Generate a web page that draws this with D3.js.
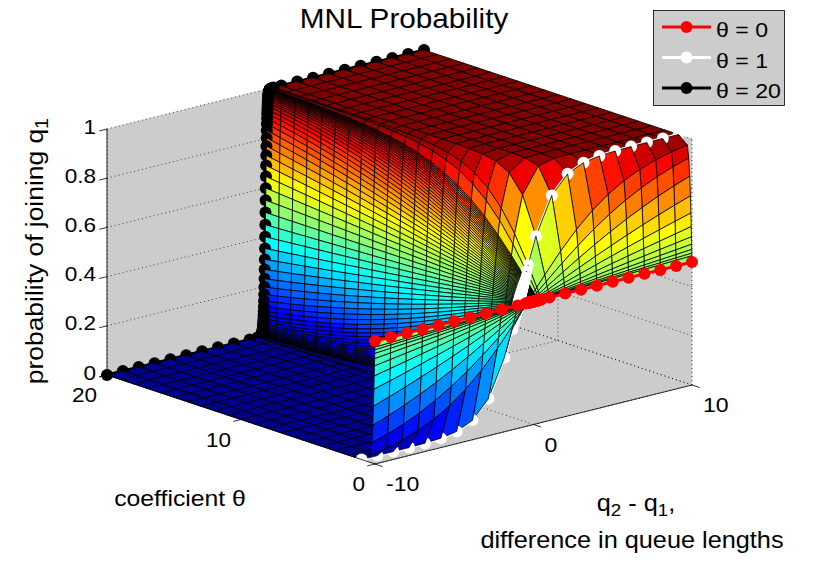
<!DOCTYPE html>
<html><head><meta charset="utf-8">
<script src="https://cdn.jsdelivr.net/npm/d3@7"></script>
<style>
html,body{margin:0;padding:0;background:#fff;}
svg{display:block;font-family:"Liberation Sans",Arial,Helvetica,sans-serif;}
</style></head><body>
<svg id="chart" width="834" height="562"></svg>
<script>
// ---------------- data ----------------
const qDiffValues = [-10,-9,-8,-7,-6,-5,-4,-3,-2,-1,
 -0.5,-0.4,
 -0.3,-0.29,-0.28,-0.27,-0.26,-0.25,-0.24,-0.23,-0.22,-0.21,
 -0.2,-0.19,-0.18,-0.17,-0.16,-0.15,-0.14,-0.13,-0.12,-0.11,
 -0.1,-0.09,-0.08,-0.07,-0.06,-0.05,-0.04,-0.03,-0.02,-0.01,
 0,
 0.01,0.02,0.03,0.04,0.05,0.06,0.07,0.08,0.09,0.1,
 0.11,0.12,0.13,0.14,0.15,0.16,0.17,0.18,0.19,0.2,
 0.21,0.22,0.23,0.24,0.25,0.26,0.27,0.28,0.29,0.3,
 0.4,0.5,
 1,2,3,4,5,6,7,8,9,10];
const thetaValues = [0,0.01,0.0143,0.0203,0.0289,0.0412,0.0587,0.0836,0.119,0.17,0.242,0.345,
 1,2,3,4,5,6,7,8,9,10,11,12,13,14,15,16,17,18,19,20];
const zTicks = [0,0.2,0.4,0.6,0.8,1];
const zTickLabels = ["0","0.2","0.4","0.6","0.8","1"];
const qDiffTicks = [-10,0,10];
const qDiffTickLabels = ["-10","0","10"];
const thetaTicks = [0,10,20];
const thetaTickLabels = ["0","10","20"];
const seriesThetas = [0,1,20];
const seriesNames = ["\u03b8 = 0","\u03b8 = 1","\u03b8 = 20"];
const seriesColors = ["#ff0000","#ffffff","#000000"];

// MNL probability of joining q1
function mnl(theta, d){ return 1/(1+Math.exp(-theta*d)); }

// ---------------- projection ----------------
const uS = d3.scaleLinear().domain([-10,10]).range([0,1]);
const vS = d3.scaleLinear().domain([0,20]).range([0,1]);
const wS = d3.scaleLinear().domain([0,1]).range([0,1]);
const O=[375,464], U=[317,-79], V=[-268,-89], W=[0,-246];
function P(x,t,z){
  const u=uS(x), v=vS(t), w=wS(z);
  return [O[0]+U[0]*u+V[0]*v+W[0]*w, O[1]+U[1]*u+V[1]*v+W[1]*w];
}
function poly(pts){ return "M"+pts.map(p=>p[0].toFixed(2)+","+p[1].toFixed(2)).join("L")+"Z"; }
function seg(a,b){ return "M"+a[0].toFixed(2)+","+a[1].toFixed(2)+"L"+b[0].toFixed(2)+","+b[1].toFixed(2); }

// MATLAB jet(64)
function jetMap(m){
  const n=Math.ceil(m/4), u=[];
  for(let i=1;i<=n;i++) u.push(i/n);
  for(let i=1;i<n;i++) u.push(1);
  for(let i=n;i>=1;i--) u.push(i/n);
  const g0=Math.ceil(n/2)-(m%4===1?1:0);
  const map=Array.from({length:m},()=>[0,0,0]);
  for(let k=0;k<u.length;k++){
    const g=g0+k+1, r=g+n, b=g-n;
    if(g>=1&&g<=m) map[g-1][1]=u[k];
    if(r>=1&&r<=m) map[r-1][0]=u[k];
    if(b>=1&&b<=m) map[b-1][2]=u[k];
  }
  return map.map(c=>d3.rgb(Math.round(c[0]*255),Math.round(c[1]*255),Math.round(c[2]*255)).formatHex());
}
const JET=jetMap(64);
const cScale = d3.scaleQuantize().domain([0,1]).range(JET);

const svg=d3.select("#chart");
const SX=1.1;
function txt(g,str,x,y,size,anchor){
  const t=g.append("text").attr("transform",`translate(${x},${y}) scale(${SX},1)`)
    .attr("font-size",size).attr("text-anchor",anchor||"start").attr("fill","#000");
  if(str!==null) t.text(str);
  return t;
}

// ---------------- back planes ----------------
const gBack=svg.append("g");
const wallFill="#cccccc";
[[[-10,0,0],[10,0,0],[10,20,0],[-10,20,0]],
 [[-10,20,0],[10,20,0],[10,20,1],[-10,20,1]],
 [[10,0,0],[10,20,0],[10,20,1],[10,0,1]]].forEach(w=>{
  gBack.append("path").attr("d",poly(w.map(p=>P(...p)))).attr("fill",wallFill).attr("stroke",wallFill).attr("stroke-width",0.5);
});
const grid=[];
zTicks.forEach(z=>{ grid.push([P(-10,20,z),P(10,20,z)]); grid.push([P(10,0,z),P(10,20,z)]); });
qDiffTicks.forEach(x=>{ grid.push([P(x,20,0),P(x,20,1)]); grid.push([P(x,0,0),P(x,20,0)]); });
thetaTicks.forEach(t=>{ grid.push([P(10,t,0),P(10,t,1)]); grid.push([P(-10,t,0),P(10,t,0)]); });
grid.forEach(s=>gBack.append("path").attr("d",seg(s[0],s[1])).attr("stroke","#000").attr("stroke-width",0.7)
  .attr("stroke-dasharray","1,3").attr("fill","none"));

// ---------------- surface + series (painter order) ----------------
const nT=thetaValues.length, nX=qDiffValues.length;
const Z=thetaValues.map(t=>qDiffValues.map(d=>mnl(t,d)));
const items=[];
for(let i=0;i<nT-1;i++){
  for(let j=0;j<nX-1;j++){
    const pts=[P(qDiffValues[j],thetaValues[i],Z[i][j]),P(qDiffValues[j+1],thetaValues[i],Z[i][j+1]),
               P(qDiffValues[j+1],thetaValues[i+1],Z[i+1][j+1]),P(qDiffValues[j],thetaValues[i+1],Z[i+1][j])];
    items.push({type:"face",key:i+j,d:poly(pts),fill:cScale(Math.min(Z[i][j],0.999999))});
  }
}
seriesThetas.forEach((th,s)=>{
  if(s===0) return; // theta = 0 drawn on top
  const i=thetaValues.indexOf(th);
  for(let j=0;j<nX-1;j++){
    items.push({type:"seg",key:i+j-0.5,d:seg(P(qDiffValues[j],th,Z[i][j]),P(qDiffValues[j+1],th,Z[i][j+1])),color:seriesColors[s]});
  }
  for(let j=0;j<nX;j++){
    items.push({type:"mark",key:i+j-1.5-0.01,p:P(qDiffValues[j],th,Z[i][j]),color:seriesColors[s]});
  }
});
items.sort((a,b)=>b.key-a.key);
const gSurf=svg.append("g");
items.forEach(it=>{
  if(it.type==="face"){
    gSurf.append("path").attr("d",it.d).attr("fill",it.fill).attr("stroke","#000").attr("stroke-width",0.8).attr("stroke-linejoin","round");
  } else if(it.type==="seg"){
    gSurf.append("path").attr("d",it.d).attr("stroke",it.color).attr("stroke-width",3).attr("stroke-linecap","round").attr("fill","none");
  } else {
    gSurf.append("circle").attr("cx",it.p[0]).attr("cy",it.p[1]).attr("r",6).attr("fill",it.color);
  }
});
// theta = 0 series on top
(function(){
  const i=thetaValues.indexOf(seriesThetas[0]);
  const pts=qDiffValues.map((d,j)=>P(d,seriesThetas[0],Z[i][j]));
  const g=svg.append("g");
  g.append("path").attr("d",d3.line()(pts)).attr("stroke",seriesColors[0]).attr("stroke-width",3).attr("fill","none");
  pts.forEach(p=>g.append("circle").attr("cx",p[0]).attr("cy",p[1]).attr("r",6).attr("fill",seriesColors[0]));
})();

// ---------------- axes ----------------
const gAx=svg.append("g");
function line(a,b,w){ gAx.append("path").attr("d",seg(a,b)).attr("stroke","#000").attr("stroke-width",w||0.8).attr("fill","none"); }
line(P(-10,0,0),P(10,0,0));
line(P(-10,0,0),P(-10,20,0));
line(P(-10,20,0),P(-10,20,1));
const tl=8;
const dirV=[-V[0],-V[1]], nV=Math.hypot(...dirV);
const dirU=[-U[0],-U[1]], nU=Math.hypot(...dirU);
qDiffTicks.forEach((x,k)=>{
  const p=P(x,0,0);
  line(p,[p[0]+dirV[0]/nV*tl,p[1]+dirV[1]/nV*tl]);
  txt(gAx,qDiffTickLabels[k],p[0]+11,p[1]+27,21,"start");
});
thetaTicks.forEach((t,k)=>{
  const p=P(-10,t,0);
  line(p,[p[0]+dirU[0]/nU*tl,p[1]+dirU[1]/nU*tl]);
  txt(gAx,thetaTickLabels[k],p[0]-10,p[1]+27,20.5,"end");
});
zTicks.forEach((z,k)=>{
  const p=P(-10,20,z);
  line(p,[p[0]+dirU[0]/nU*tl,p[1]+dirU[1]/nU*tl]);
  txt(gAx,zTickLabels[k],p[0]-11,p[1]+4.5,20.5,"end");
});

// axis labels
const yl=gAx.append("text").attr("transform","translate(43,251) rotate(-90) scale(1.1,1)")
  .attr("font-size",24).attr("text-anchor","middle");
yl.append("tspan").text("probability of joining q");
yl.append("tspan").attr("font-size",18).attr("dy",5).text("1");

txt(gAx,"coefficient \u03b8",180,506,22.5,"middle");
const xl1=txt(gAx,null,636,511,23,"middle");
xl1.append("tspan").text("q");
xl1.append("tspan").attr("font-size",17).attr("dy",5).text("2");
xl1.append("tspan").attr("dy",-5).text(" - q");
xl1.append("tspan").attr("font-size",17).attr("dy",5).text("1");
xl1.append("tspan").attr("dy",-5).text(",");
txt(gAx,"difference in queue lengths",632,548,23,"middle");

// title
txt(gAx,"MNL Probability",404,28,27,"middle");

// ---------------- legend ----------------
const gL=svg.append("g");
gL.append("rect").attr("x",653.5).attr("y",10.5).attr("width",131).attr("height",95)
  .attr("fill","#cccccc").attr("stroke","#000").attr("stroke-width",0.8);
const rowY=[27,57.5,88];
seriesNames.forEach((nm,k)=>{
  const y=rowY[k];
  gL.append("path").attr("d",`M662,${y}L711,${y}`).attr("stroke",seriesColors[k]).attr("stroke-width",3);
  gL.append("circle").attr("cx",686.5).attr("cy",y).attr("r",6).attr("fill",seriesColors[k]);
  txt(gL,nm,716,y+10,21,"start");
});
</script>
</body></html>
